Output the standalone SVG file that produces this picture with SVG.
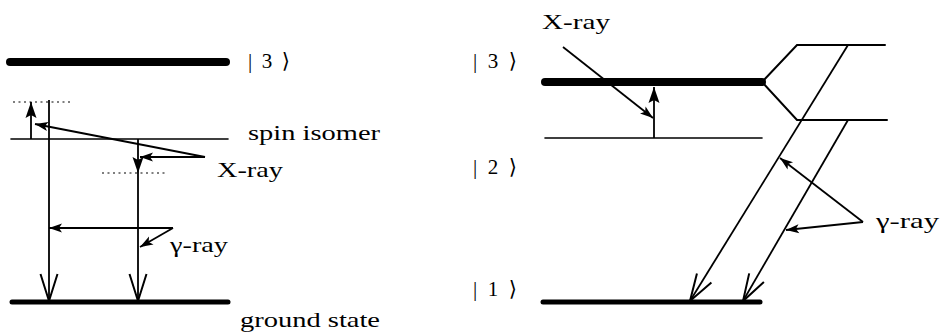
<svg xmlns="http://www.w3.org/2000/svg" width="941" height="336" viewBox="0 0 941 336">
<style>
text{font-family:"Liberation Serif","Times New Roman","DejaVu Serif",serif;font-size:21px;fill:#000}
.lv{stroke:#000;fill:none;stroke-linecap:round}
.c{stroke:#000;fill:none;stroke-width:1.8}
.dot{stroke:#000;stroke-width:1.2;stroke-dasharray:2 3.5;fill:none}
</style>
<defs>
<marker id="ah" markerUnits="userSpaceOnUse" markerWidth="14" markerHeight="10" refX="13" refY="5" orient="auto" overflow="visible">
<path d="M0,0.5 L13,5 L0,9.5 L3,5 z" fill="#000"/>
</marker>
<marker id="ab" markerUnits="userSpaceOnUse" markerWidth="17" markerHeight="12" refX="16" refY="6" orient="auto" overflow="visible">
<path d="M0,0.5 L16,6 L0,11.5 L3,6 z" fill="#000"/>
</marker>
<marker id="vh" markerUnits="userSpaceOnUse" markerWidth="30" markerHeight="20" refX="27" refY="10" orient="auto" overflow="visible">
<path d="M0,1.5 L27,10 L0,18.5" fill="none" stroke="#000" stroke-width="2"/>
</marker>
</defs>
<rect width="941" height="336" fill="#fff"/>

<g id="left-level3">
<line class="lv" x1="10" y1="62" x2="226" y2="62" stroke-width="8"/>
<text x="248" y="68" textLength="42" lengthAdjust="spacing">|3⟩</text>
</g>
<g id="left-virtual-upper">
<line class="dot" x1="13" y1="102" x2="72" y2="102"/>
</g>
<g id="spin-isomer">
<line class="lv" x1="11" y1="139" x2="228" y2="139" stroke-width="1.6"/>
<text x="248" y="140" textLength="132" lengthAdjust="spacingAndGlyphs">spin isomer</text>
</g>
<g id="left-virtual-lower">
<line class="dot" x1="102" y1="173" x2="168" y2="173"/>
</g>
<g id="ground-state">
<line class="lv" x1="12" y1="302" x2="228" y2="302" stroke-width="5"/>
<text x="240" y="327" textLength="140" lengthAdjust="spacingAndGlyphs">ground state</text>
</g>
<g id="left-xray-label">
<text x="217" y="177" textLength="66" lengthAdjust="spacingAndGlyphs">X-ray</text>
</g>
<g id="left-gamma-label">
<text x="170" y="252" textLength="58" lengthAdjust="spacingAndGlyphs">γ-ray</text>
</g>

<g id="right-level3">
<line class="lv" x1="545" y1="82" x2="762" y2="82" stroke-width="8"/>
<path class="lv" d="M885,45 L797,45 L762,82 L797,120 L887,120" stroke-width="2"/>
<text x="473" y="68" textLength="44" lengthAdjust="spacing">|3⟩</text>
</g>
<g id="right-level2">
<line class="lv" x1="545" y1="138" x2="762" y2="138" stroke-width="1.6"/>
<text x="473" y="174" textLength="44" lengthAdjust="spacing">|2⟩</text>
</g>
<g id="right-level1">
<line class="lv" x1="543" y1="302" x2="760" y2="302" stroke-width="5"/>
<text x="473" y="296" textLength="44" lengthAdjust="spacing">|1⟩</text>
</g>
<g id="right-xray-label">
<text x="542" y="29" textLength="68" lengthAdjust="spacingAndGlyphs">X-ray</text>
</g>
<g id="right-gamma-label">
<text x="876" y="228" textLength="63" lengthAdjust="spacingAndGlyphs">γ-ray</text>
</g>

<g id="connectors">
<path class="c" d="M49,100 L49,301" marker-end="url(#vh)"/>
<path class="c" d="M138,139 L138,173" marker-end="url(#ab)"/>
<path class="c" d="M138,173 L138,301" marker-end="url(#vh)"/>
<path class="c" d="M31,139 L31,102" marker-end="url(#ab)"/>
<path class="c" d="M205,157 L35,124" marker-end="url(#ah)" stroke-width="2.2"/>
<path class="c" d="M205,157 L140,157" marker-end="url(#ah)"/>
<path class="c" d="M173,228 L49,228" marker-end="url(#ah)"/>
<path class="c" d="M173,228 L140,247" marker-end="url(#ah)"/>

<path class="c" d="M654,138 L654,87" marker-end="url(#ab)"/>
<path class="c" d="M563,47 L653,118" marker-end="url(#ah)" stroke-width="2.2"/>
<path class="c" d="M848,45 L690,301" marker-end="url(#vh)" stroke-width="2.6"/>
<path class="c" d="M848,120 L743,301" marker-end="url(#vh)" stroke-width="2.6"/>
<path class="c" d="M863,222 L780,158" marker-end="url(#ah)" stroke-width="1.6"/>
<path class="c" d="M863,222 L786,230" marker-end="url(#ah)" stroke-width="1.6"/>
</g>
</svg>
